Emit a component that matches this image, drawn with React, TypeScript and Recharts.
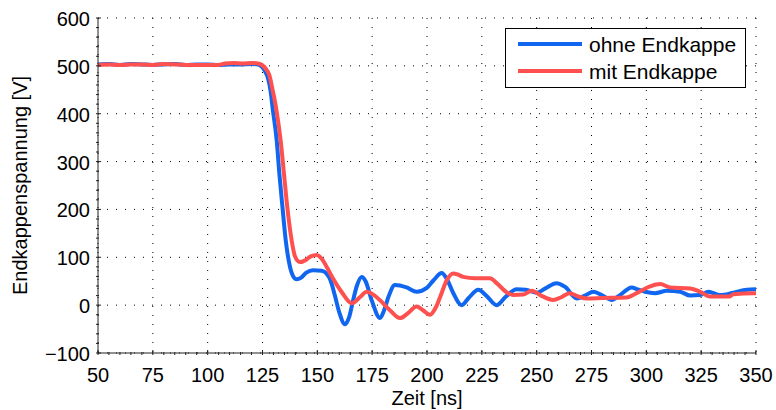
import React from 'react';
import { LineChart, Line, XAxis, YAxis, CartesianGrid, Legend } from 'recharts';

const FONT = '"Liberation Sans", Arial, Helvetica, sans-serif';

// Zeit [ns] / Spannung [V] – ohne Endkappe
const ohneT = [50, 55, 60, 65, 70, 75, 80, 85, 90, 95, 100, 105, 110, 115, 120, 123, 124.5, 126, 127.5, 128.7, 129.6, 131.5, 132.7, 134.1, 135.6, 137, 138.5, 140.5, 142.5, 145, 148, 152, 154, 156, 158, 160, 162.6, 164.5, 166.3, 168, 170.2, 172, 174.8, 178.6, 180.5, 182.4, 185.4, 190.7, 195.3, 199.9, 203, 206.7, 209, 212, 215.8, 219, 223.4, 227, 231.8, 236, 240.9, 245, 250, 254, 259, 263, 268.3, 272, 275.9, 280, 284.2, 288, 293.3, 296, 299.4, 304, 309.3, 315.4, 320, 324.5, 328.3, 333.6, 339.7, 345.8, 350];
const ohneV = [503, 504, 502, 504, 503, 502, 503, 504, 502, 503, 503, 502, 503, 503, 504, 503, 499, 490, 474, 447, 412, 343, 274, 205, 135, 92, 65, 54, 57, 68, 73, 72, 67, 52, 20, -15, -40, -25, 10, 40, 59, 50, 10, -27, -10, 17, 42, 37, 28, 36, 52, 67, 55, 25, 0, 15, 32, 20, 0, 18, 33, 32, 26, 35, 46, 38, 14, 20, 28, 20, 11, 21, 37, 33, 28, 25, 30, 28, 20, 21, 28, 21, 26, 32, 33];

// mit Endkappe
const mitT = [50, 55, 60, 65, 70, 75, 80, 85, 90, 95, 100, 105, 108, 112, 116, 120, 123, 125, 126.5, 128.1, 129.5, 131.2, 133.3, 134.8, 136.3, 138.3, 139.8, 142, 145, 147, 149.7, 152, 154.5, 157.2, 161, 165.7, 169.5, 172.5, 175.5, 178.6, 183, 187.7, 191, 195.3, 198, 201.4, 204, 206, 209, 212, 214, 216.5, 222, 228.7, 232, 236, 239.4, 244, 247.7, 252, 257.5, 261, 265, 269, 272.8, 280, 291, 295.6, 301.7, 306.3, 310.8, 320, 324.5, 329, 338, 339.6, 349, 350];
const mitV = [502, 503, 502, 503, 503, 502, 504, 503, 502, 502, 502, 502, 505, 506, 505, 506, 505, 501, 494, 481, 452, 412, 343, 274, 205, 135, 102, 90, 95, 102, 105, 97, 78, 55, 28, 4, 17, 28, 22, 10, -10, -27, -18, -3, -10, -20, -5, 17, 52, 66, 64, 59, 56, 56, 45, 28, 21, 22, 30, 20, 11, 16, 25, 18, 14, 15, 16, 25, 39, 44, 37, 35, 28, 18, 18, 23, 25, 25];

const seriesNames = ['ohne Endkappe', 'mit Endkappe'];
const seriesColors = ['#1166f0', '#ff5050'];

const xMajor = [50, 75, 100, 125, 150, 175, 200, 225, 250, 275, 300, 325, 350];
const yMajor = [-100, 0, 100, 200, 300, 400, 500, 600];
const xMinorStep = 5;
const yMinorStep = 20;
const xAll = Array.from({ length: (350 - 50) / xMinorStep + 1 }, (_, i) => 50 + i * xMinorStep);
const yAll = Array.from({ length: (600 + 100) / yMinorStep + 1 }, (_, i) => -100 + i * yMinorStep);

const ohneData = ohneT.map((t, i) => ({ t, v: ohneV[i] }));
const mitData = mitT.map((t, i) => ({ t, v: mitV[i] }));

const fmt = (v: number) => (v < 0 ? '\u2212' + Math.abs(v) : String(v));

const XTick = (props: any) => {
  const { x, y, payload } = props;
  const major = xMajor.includes(payload.value);
  return (
    <g>
      <line x1={x} x2={x} y1={y} y2={y - (major ? 5 : 3)} stroke="#222" strokeWidth={1} />
      {major && (
        <text x={x} y={y + 27} textAnchor="middle" fontFamily={FONT} fontSize={20} fill="#000">
          {fmt(payload.value)}
        </text>
      )}
    </g>
  );
};

const YTick = (props: any) => {
  const { x, y, payload } = props;
  const major = yMajor.includes(payload.value);
  return (
    <g>
      <line x1={x} x2={x + (major ? 5 : 3)} y1={y} y2={y} stroke="#222" strokeWidth={1} />
      {major && (
        <text x={x - 6} y={y + 8} textAnchor="end" fontFamily={FONT} fontSize={20} fill="#000">
          {fmt(payload.value)}
        </text>
      )}
    </g>
  );
};

const LegendBox = () => (
  <svg width={241} height={60} style={{ display: 'block' }}>
    <rect x={0.5} y={0.5} width={240} height={59} fill="#fff" stroke="#000" strokeWidth={1} />
    {seriesNames.map((n, i) => (
      <g key={n}>
        <line x1={13} x2={77} y1={16 + i * 27} y2={16 + i * 27} stroke={seriesColors[i]} strokeWidth={4} />
        <text x={84} y={23.5 + i * 27} fontFamily={FONT} fontSize={21} fill="#000">
          {n}
        </text>
      </g>
    ))}
  </svg>
);

export default function App() {
  return (
    <div style={{ position: 'absolute', left: 0, top: 0, width: 776, height: 410, background: '#fff' }}>
      <LineChart width={776} height={410} margin={{ top: 18, right: 20, left: 0, bottom: 0 }}>
        <CartesianGrid
          horizontalValues={yMajor}
          verticalValues={xMajor}
          stroke="#000"
          strokeDasharray="1 8"
          strokeWidth={1}
        />
        <XAxis
          dataKey="t"
          type="number"
          domain={[50, 350]}
          ticks={xAll}
          interval={0}
          allowDataOverflow
          height={57}
          tickSize={0}
          tickLine={false}
          tick={<XTick />}
          axisLine={{ stroke: '#222', strokeWidth: 1 }}
          label={{ value: 'Zeit [ns]', position: 'insideBottom', offset: 5, fontFamily: FONT, fontSize: 20, fill: '#000' }}
        />
        <YAxis
          type="number"
          domain={[-100, 600]}
          ticks={yAll}
          interval={0}
          allowDataOverflow
          width={98}
          tickSize={0}
          tickLine={false}
          tick={<YTick />}
          axisLine={{ stroke: '#222', strokeWidth: 1 }}
          label={{
            value: 'Endkappenspannung [V]',
            angle: -90,
            position: 'insideLeft',
            offset: 20,
            fontFamily: FONT,
            fontSize: 20,
            fill: '#000',
            style: { textAnchor: 'middle' },
          }}
        />
        <Legend
          layout="horizontal"
          verticalAlign="middle"
          align="center"
          wrapperStyle={{ left: 505, top: 28, width: 241, height: 60 }}
          content={<LegendBox />}
        />
        <Line
          data={ohneData}
          dataKey="v"
          name={seriesNames[0]}
          type="monotoneX"
          stroke={seriesColors[0]}
          strokeWidth={4}
          dot={false}
          isAnimationActive={false}
        />
        <Line
          data={mitData}
          dataKey="v"
          name={seriesNames[1]}
          type="monotoneX"
          stroke={seriesColors[1]}
          strokeWidth={4}
          dot={false}
          isAnimationActive={false}
        />
      </LineChart>
    </div>
  );
}
